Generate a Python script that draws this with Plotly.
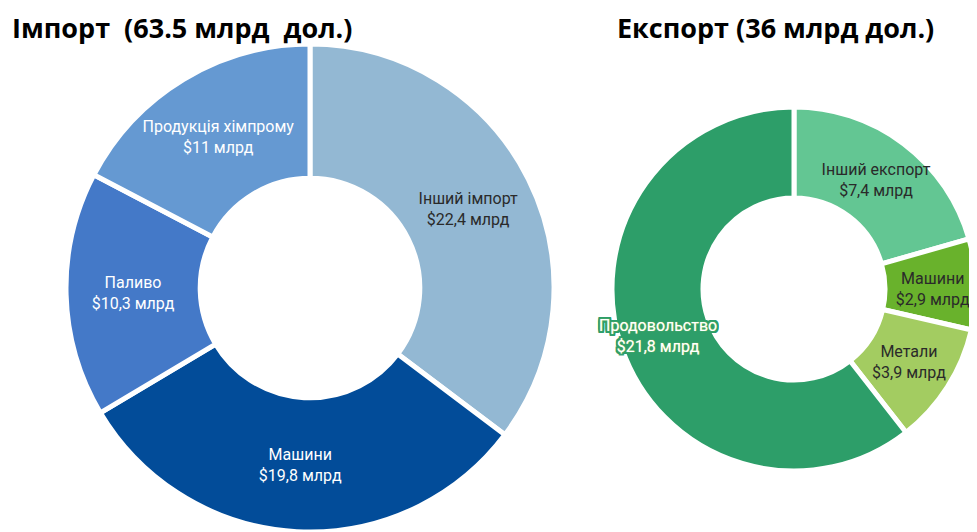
import math
import plotly.graph_objects as go

# Імпорт, млрд дол.
import_labels = ["Інший імпорт", "Машини", "Паливо", "Продукція хімпрому"]
import_values = [22.4, 19.8, 10.3, 11.0]
import_text = ["$22,4 млрд", "$19,8 млрд", "$10,3 млрд", "$11 млрд"]
import_colors = ["#93b8d3", "#024c99", "#4479c8", "#6599d2"]
import_font = ["#2a2a2a", "white", "white", "white"]

# Експорт, млрд дол.
export_labels = ["Інший експорт", "Машини", "Метали", "Продовольство"]
export_values = [7.4, 2.9, 3.9, 21.8]
export_text = ["$7,4 млрд", "$2,9 млрд", "$3,9 млрд", "$21,8 млрд"]
export_colors = ["#63c693", "#69b22c", "#a3cc61", "#2d9e69"]
export_font = ["#2a2a2a", "#2a2a2a", "#2a2a2a", "white"]

# figure sits inside the page's 8px body margin
W, H = 969, 524
FONT = "Roboto"
FSIZE = 16

# pie geometry in figure pixels (centre x, centre y, radius)
IMP = (302, 280, 244)
EXP = (786, 281, 182)
EXP_HOLE = 0.5


def dom(cx, cy, r):
    return dict(x=[(cx - r) / W, (cx + r) / W],
                y=[(H - cy - r) / H, (H - cy + r) / H])


fig = go.Figure()

fig.add_trace(go.Pie(
    labels=import_labels, values=import_values,
    text=[f"{l}<br>{t}" for l, t in zip(import_labels, import_text)],
    textinfo="text", textposition="inside",
    insidetextorientation="horizontal",
    sort=False, direction="clockwise", rotation=0,
    hole=0.45,
    marker=dict(colors=import_colors, line=dict(color="white", width=5)),
    textfont=dict(family=FONT, size=FSIZE, color=import_font),
    domain=dom(*IMP),
    showlegend=False,
))

# the big export slice gets its label placed at the slice mid-angle below
exp_slice_text = [f"{l}<br>{t}" for l, t in zip(export_labels, export_text)]
big = exp_slice_text[3]
exp_slice_text[3] = ""

fig.add_trace(go.Pie(
    labels=export_labels, values=export_values,
    text=exp_slice_text,
    textinfo="text", textposition="inside",
    insidetextorientation="horizontal",
    sort=False, direction="clockwise", rotation=0,
    hole=EXP_HOLE,
    marker=dict(colors=export_colors, line=dict(color="white", width=5)),
    textfont=dict(family=FONT, size=FSIZE, color=export_font),
    domain=dom(*EXP),
    showlegend=False,
))

total = sum(export_values)
mid = (sum(export_values[:3]) + export_values[3] / 2) / total * 2 * math.pi
cx, cy, r = EXP
rt = r * (1 + EXP_HOLE) / 2 + 7
g = export_colors[3]
halo = ", ".join(f"{dx}px {dy}px 0 {g}" for dx in (-2, -1, 0, 1, 2) for dy in (-2, -1, 0, 1, 2))
fig.add_annotation(text=big, showarrow=False, xref="paper", yref="paper",
                   x=(cx + rt * math.sin(mid)) / W,
                   y=1 - (cy - rt * math.cos(mid)) / H,
                   xanchor="center", yanchor="middle",
                   font=dict(family=FONT, size=FSIZE, color="white",
                             shadow="0 0 1px #d8e070, " + halo))

fig.add_annotation(text="<b>Імпорт  (63.5 млрд  дол.)</b>", x=2 / W, y=1 - 20 / H,
                   xref="paper", yref="paper", xanchor="left", yanchor="middle",
                   showarrow=False, font=dict(family="Open Sans", size=27, color="black"))
fig.add_annotation(text="<b>Експорт (36 млрд дол.)</b>", x=607 / W, y=1 - 20 / H,
                   xref="paper", yref="paper", xanchor="left", yanchor="middle",
                   showarrow=False, font=dict(family="Open Sans", size=27, color="black"))

fig.update_layout(
    width=W, height=H,
    margin=dict(l=0, r=0, t=0, b=0),
    paper_bgcolor="white", plot_bgcolor="white",
    uniformtext=dict(minsize=FSIZE, mode="show"),
)

fig.write_html("out.html")
